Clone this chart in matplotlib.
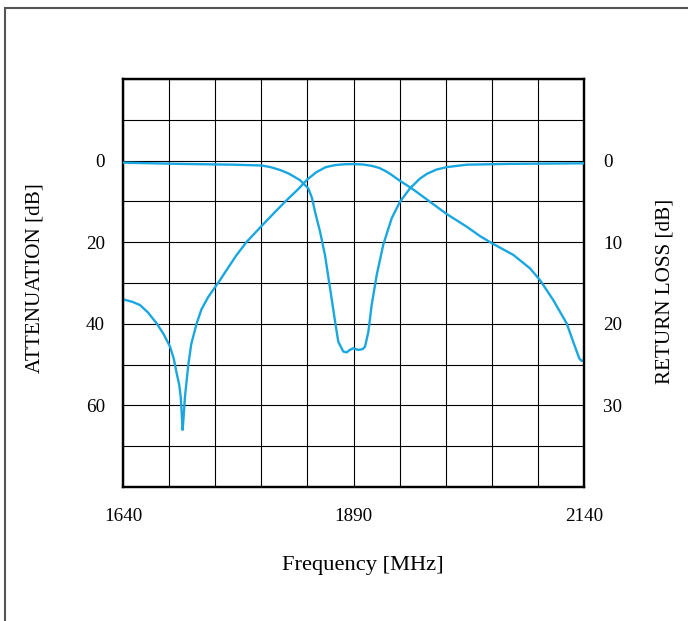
import numpy as np
import matplotlib
matplotlib.use("Agg")
import matplotlib.pyplot as plt
from matplotlib.patches import Rectangle

# values
att_freq = [1640, 1650, 1658.4, 1667, 1676.5, 1684, 1691.0, 1695, 1698.2, 1701,
            1702.6, 1703.7, 1704.7, 1706.0, 1707.2, 1710.8, 1714, 1719.9, 1725,
            1732.5, 1745.2, 1752.4, 1763, 1774.2, 1790.4, 1804, 1817.5, 1830,
            1840, 1850, 1860, 1870, 1880, 1890, 1900, 1910, 1918, 1925, 1930,
            1940, 1953.1, 1970, 1991.1, 2012.8, 2027.2, 2040.5, 2063.3, 2081.4,
            2092.3, 2106.7, 2121.2, 2130.2, 2134.9, 2137.5, 2140]
att_db = [34.0, 34.6, 35.4, 37.2, 39.9, 42.5, 45.6, 48.5, 52.1, 55.0,
          57.9, 62.0, 66.0, 62.0, 57.9, 50.1, 45.0, 39.9, 36.5,
          33.4, 29.3, 26.8, 23.2, 19.9, 16.0, 12.8, 9.7, 7.0,
          4.6, 2.8, 1.6, 1.1, 0.9, 0.85, 0.95, 1.3, 1.8, 2.6, 3.3,
          4.9, 6.8, 9.6, 13.1, 16.2, 18.5, 20.3, 23.1, 26.4,
          29.3, 34.2, 39.9, 45.6, 48.5, 49.1, 48.9]

rl_freq = [1640, 1700, 1760, 1790.4, 1800, 1810.3, 1820, 1832.0, 1841.0, 1845,
           1848.2, 1853.7, 1859.1, 1864.5, 1870.0, 1873.5, 1878.9, 1882.6, 1886,
           1889.8, 1895.2, 1900, 1902.5, 1906.1, 1909.7, 1915.2, 1922.3, 1931.4,
           1940.4, 1951.3, 1962.1, 1970, 1980, 1991.1, 2012.8, 2060, 2140]
rl_db = [0.25, 0.4, 0.5, 0.6, 0.8, 1.15, 1.6, 2.4, 3.4, 4.6,
         6.25, 8.7, 11.6, 15.6, 19.7, 22.2, 23.4, 23.5, 23.2,
         23.0, 23.2, 23.1, 22.8, 21.0, 17.7, 14.0, 10.3, 7.07,
         5.04, 3.4, 2.2, 1.6, 1.1, 0.8, 0.5, 0.4, 0.33]

x_labels = {1640: "1640", 1890: "1890", 2140: "2140"}
att_ticks = [0, 20, 40, 60]
rl_ticks = [0, 10, 20, 30]

plt.rcParams['font.family'] = ['Liberation Serif', 'DejaVu Serif']
line_color = '#1aa7e0'

fig = plt.figure(figsize=(6.88, 6.21), dpi=100)
ax = fig.add_axes([123 / 688, 1 - 487 / 621, 461 / 688, 408 / 621])

# outer frame, cut by the right and bottom edges of the picture
fig.patches.append(Rectangle((5 / 688, -0.2), 1.2, 1.2 - 8 / 621, transform=fig.transFigure,
                             fill=False, edgecolor='#555555', lw=1.5))

ax.plot(att_freq, att_db, color=line_color, lw=1.7, zorder=3)
ax.set_xlim(1640, 2140)
ax.set_ylim(80, -20)

xt = np.arange(1640, 2141, 50)
ax.set_xticks(xt)
ax.set_xticklabels([x_labels.get(int(v), "") for v in xt], fontsize=13.7)
yt = np.arange(-20, 81, 10)
ax.set_yticks(yt)
ax.set_yticklabels([str(v) if v in att_ticks else "" for v in yt], fontsize=13.7)
ax.tick_params(axis='x', length=0, pad=15)
ax.tick_params(axis='y', length=0, pad=13)
ax.grid(True, color='black', lw=0.8)
for s in ax.spines.values():
    s.set_linewidth(1.6)

ax2 = ax.twinx()
ax2.plot(rl_freq, rl_db, color=line_color, lw=1.7, zorder=3)
ax2.set_ylim(40, -10)
ax2.set_yticks(rl_ticks)
ax2.set_yticklabels([str(v) for v in rl_ticks], fontsize=13.7)
ax2.tick_params(axis='y', length=0, pad=14)
for s in ax2.spines.values():
    s.set_linewidth(1.6)

ax.text(-0.191, 0.512, "ATTENUATION [dB]", transform=ax.transAxes, rotation=90,
        ha='center', va='center', fontsize=15.2)
ax.text(1.176, 0.480, "RETURN LOSS [dB]", transform=ax.transAxes, rotation=90,
        ha='center', va='center', fontsize=15.2)
ax.text(0.521, -0.192, "Frequency [MHz]", transform=ax.transAxes,
        ha='center', va='center', fontsize=16.2)

fig.savefig('out.png', dpi=100)
